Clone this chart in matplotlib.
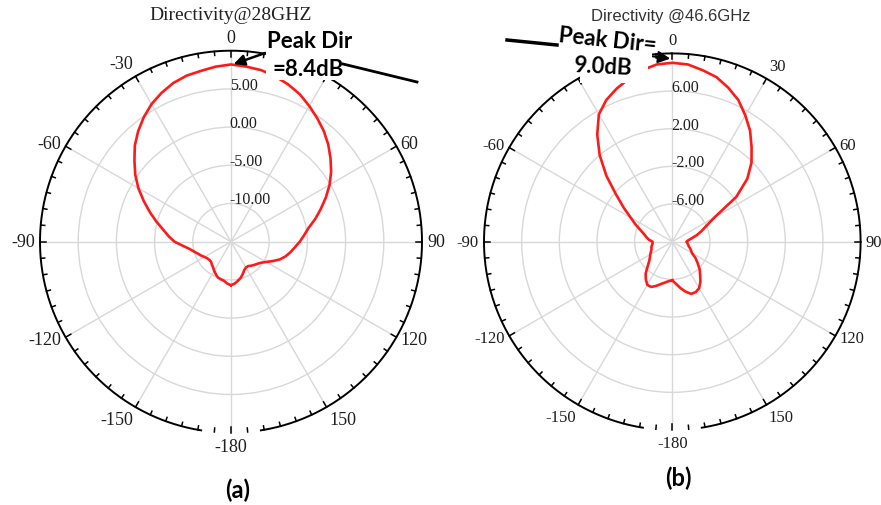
import numpy as np
import matplotlib.pyplot as plt
from matplotlib.patches import Rectangle

# ------------------------------------------------------------------
# Data (angle in deg, dB)
# ------------------------------------------------------------------
theta_a = list(range(-180, 185, 5))
dir_a = [-9.3, -9.5, -9.8, -9.9, -10.0, -10.3, -10.6, -10.9, -11.1, -11.3,   # -180 .. -135
         -11.3, -11.2, -11.0, -10.7, -10.4, -10.0, -9.5, -8.7, -7.6, -6.8,   # -130 .. -85
         -6.0, -4.9, -3.7, -2.4, -1.0, 0.3, 1.5, 2.8, 3.9, 4.9,              # -80 .. -35
         5.8, 6.5, 7.1, 7.5, 7.7, 8.0, 8.2, 8.0, 7.8, 7.4,                   # -30 .. 15
         6.9, 6.3, 5.5, 4.7, 3.9, 3.0, 2.0, 1.0, -0.1, -1.3,                 # 20 .. 65
         -2.5, -3.6, -4.7, -5.4, -6.0, -6.6, -7.1, -7.6, -8.2, -9.0,         # 70 .. 115
         -9.7, -10.2, -10.5, -10.7, -10.9, -11.1, -11.1, -10.9, -10.5, -10.1, # 120 .. 165
         -9.8, -9.5, -9.3]                                                   # 170 .. 180

theta_b = list(range(-180, 185, 5))
dir_b = [-5.9, -5.8, -5.6, -5.35, -5.0, -4.7, -4.7, -5.1, -5.6, -6.3,        # -180 .. -135
         -6.8, -7.1, -7.3, -7.5, -7.65, -7.7, -7.8, -7.9, -7.9, -7.5,        # -130 .. -85
         -7.2, -6.9, -6.4, -5.7, -4.9, -3.7, -2.2, -0.1, 2.0, 3.9,           # -80 .. -35
         5.6, 6.6, 7.3, 7.9, 8.5, 8.9, 9.0, 8.9, 8.5, 8.1,                   # -30 .. 15
         7.4, 6.6, 5.5, 4.4, 3.1, 1.9, 0.4, -1.7, -4.8, -6.0,                # 20 .. 65
         -6.7, -7.3, -7.9, -8.3, -8.5, -8.4, -8.3, -8.2, -8.0, -7.8,         # 70 .. 115
         -7.6, -7.0, -6.5, -5.9, -5.4, -4.8, -4.3, -4.1, -4.1, -4.5,         # 120 .. 165
         -5.0, -5.5, -5.9]                                                   # 170 .. 180

rings_a = [-10, -5, 0, 5]
rings_b = [-6, -2, 2, 6]
angle_ticks = [0, 30, 60, 90, 120, 150, -180, -150, -120, -90, -60, -30]

W, H = 881, 506
SERIF = "Liberation Serif"
BOLD = "Lato"


def fx(x):
    return x / W


def fy(y):
    return 1 - y / H


def setup_polar(ax, rmin, rmax, rings, radius_px, label_size, hidden):
    ax.set_theta_zero_location("N")
    ax.set_theta_direction(-1)
    ax.set_ylim(rmin, rmax)
    ax.set_xticks(np.radians(np.arange(0, 360, 30)))
    ax.set_xticklabels([])
    ax.set_yticks(rings)
    ax.set_yticklabels([])
    ax.grid(color="#d8d8d8", lw=1.0)
    ax.spines["polar"].set_visible(False)
    ax.patch.set_alpha(0)

    unit = (rmax - rmin) / radius_px  # data units per pixel
    # outer black circle (open near -180, as in the original)
    th = np.radians(np.linspace(-171, 171, 500))
    ax.plot(th, np.full_like(th, rmax), color="black", lw=1.4, clip_on=False, zorder=3)
    for a in range(0, 360, 5):
        L = 6 if a % 30 == 0 else 4
        ax.plot([np.radians(a)] * 2, [rmax, rmax - L * unit], color="black",
                lw=1.1, clip_on=False, zorder=3)

    # angle labels
    for a in angle_ticks:
        if a in hidden:
            continue
        t = np.radians(a)
        s, c = np.sin(t), np.cos(t)
        ha = "left" if s > 0.1 else ("right" if s < -0.1 else "center")
        va = "bottom" if c > 0.8 else ("top" if c < -0.8 else "center")
        g = 5 * 0.72
        ax.annotate(str(a), xy=(t, rmax), xytext=(g * s, g * c), textcoords="offset points",
                    ha=ha, va=va, fontsize=label_size, family=SERIF, color="#1e1e1e",
                    annotation_clip=False)

    # radial labels
    for r in rings:
        ax.annotate(f"{r:.2f}", xy=(0, r), xytext=(-1, 3), textcoords="offset points",
                    ha="left", va="center", fontsize=11.5, family=SERIF, color="#1e1e1e",
                    zorder=4)


fig = plt.figure(figsize=(W / 100, H / 100), dpi=100)

# left: 28 GHz
ra = 191
ax1 = fig.add_axes([fx(231 - ra), fy(242.7 + ra), 2 * ra / W, 2 * ra / H], projection="polar")
setup_polar(ax1, -15, 10, rings_a, ra, 13, hidden=[30])
ax1.plot(np.radians(theta_a), dir_a, color="#ff1a1a", lw=1.9, zorder=5)

# right: 46.6 GHz
rb = 188.3
ax2 = fig.add_axes([fx(672.3 - rb), fy(242.7 + rb), 2 * rb / W, 2 * rb / H], projection="polar")
setup_polar(ax2, -10, 10, rings_b, rb, 12, hidden=[-30])
ax2.plot(np.radians(theta_b), dir_b, color="#ff1a1a", lw=1.9, zorder=5)

# white patches behind the pasted annotations
for x0, y0, x1, y1 in [(266, 45, 337, 81), (545, 22, 652, 62), (580, 55, 648, 84)]:
    fig.add_artist(Rectangle((fx(x0), fy(y1)), (x1 - x0) / W, (y1 - y0) / H,
                             transform=fig.transFigure, facecolor="white",
                             edgecolor="none", zorder=10))

# titles
fig.text(fx(231), fy(16), "Directivity@28GHZ", ha="center", va="center",
         fontsize=14, family=SERIF, color="#222222", zorder=11)
fig.text(fx(671), fy(16), "Directivity @46.6GHz", ha="center", va="center",
         fontsize=12, family="Liberation Sans", color="#333333", zorder=11)

# peak annotations
fig.text(fx(267), fy(41), "Peak Dir", ha="left", va="center", fontsize=16,
         family=BOLD, weight="bold", zorder=11)
fig.text(fx(272), fy(70), "=8.4dB", ha="left", va="center", fontsize=16,
         family=BOLD, weight="bold", zorder=11)
fig.add_artist(plt.Line2D([fx(343), fx(417)], [fy(65), fy(83)], color="black", lw=2,
                          transform=fig.transFigure, zorder=11))
fig.add_artist(plt.Line2D([fx(507), fx(557)], [fy(41), fy(46)], color="black", lw=2.5,
                          transform=fig.transFigure, zorder=11))
fig.text(fx(607), fy(41), "Peak Dir=", ha="center", va="center", fontsize=16,
         family=BOLD, weight="bold", rotation=-6, zorder=11)
fig.text(fx(603), fy(67), "9.0dB", ha="center", va="center", fontsize=16,
         family=BOLD, weight="bold", rotation=-3, zorder=11)

ax1.annotate("", xy=(fx(231), fy(66)), xycoords="figure fraction",
             xytext=(fx(268), fy(53)), textcoords="figure fraction",
             arrowprops=dict(arrowstyle="-|>", color="black", lw=1.8, mutation_scale=16),
             zorder=12, annotation_clip=False)
ax2.annotate("", xy=(fx(673), fy(60)), xycoords="figure fraction",
             xytext=(fx(650), fy(57)), textcoords="figure fraction",
             arrowprops=dict(arrowstyle="-|>", color="black", lw=1.5, mutation_scale=18),
             zorder=12, annotation_clip=False)

# panel letters
fig.text(fx(238), fy(490), "(a)", ha="center", va="center", fontsize=17,
         family=BOLD, weight="bold")
fig.text(fx(678), fy(478), "(b)", ha="center", va="center", fontsize=17,
         family=BOLD, weight="bold")

fig.savefig("out.png", dpi=100)
